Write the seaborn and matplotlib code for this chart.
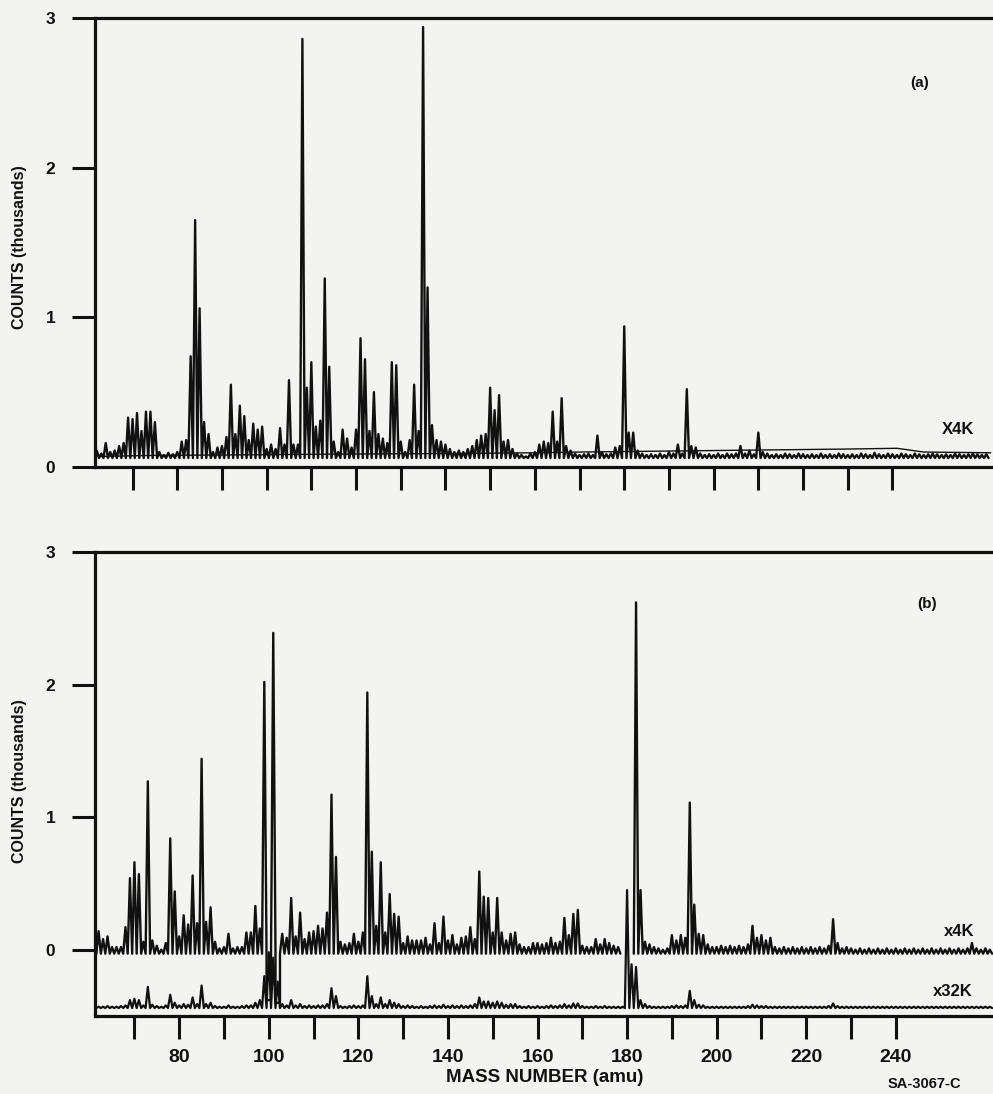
import numpy as np
import pandas as pd
import matplotlib
matplotlib.use("Agg")
import matplotlib.pyplot as plt
import seaborn as sns

sns.set_theme(style="white")
plt.rcParams["font.family"] = ["Liberation Sans", "DejaVu Sans"]

# mass numbers (amu), one reading per integer mass
masses = np.arange(62, 262)

# panel (a): X4K trace, counts
counts_a = [
    110, 90, 160, 100, 110, 140, 160, 330, 320, 360,
    240, 370, 370, 300, 100, 80, 95, 85, 100, 170,
    180, 740, 1650, 1060, 300, 220, 100, 130, 140, 200,
    550, 220, 410, 340, 180, 290, 250, 270, 120, 150,
    120, 260, 150, 580, 150, 150, 2860, 530, 700, 270,
    310, 1260, 670, 170, 100, 250, 190, 130, 250, 860,
    720, 240, 500, 220, 190, 160, 700, 680, 170, 100,
    180, 550, 240, 2940, 1200, 280, 180, 170, 150, 120,
    100, 110, 100, 120, 140, 180, 210, 220, 530, 380,
    480, 170, 180, 120, 90, 80, 70, 90, 100, 150,
    170, 160, 370, 170, 460, 140, 110, 90, 80, 85,
    90, 80, 210, 100, 85, 90, 130, 140, 940, 230,
    230, 110, 90, 80, 85, 80, 90, 80, 100, 90,
    150, 90, 520, 140, 130, 90, 80, 85, 80, 90,
    80, 90, 85, 90, 140, 90, 110, 85, 230, 100,
    90, 80, 85, 80, 90, 85, 80, 90, 85, 80,
    85, 80, 90, 80, 85, 80, 90, 85, 80, 85,
    80, 90, 85, 80, 95, 85, 80, 90, 85, 80,
    90, 85, 80, 90, 85, 80, 85, 90, 85, 80,
    85, 80, 90, 85, 80, 85, 90, 85, 80, 85,
]
# smooth background line drawn under trace (a)
bg_mass_a = [62, 70, 76, 90, 110, 140, 160, 170, 200, 230, 241, 247, 262]
bg_counts_a = [70, 75, 78, 80, 85, 90, 95, 100, 110, 120, 125, 100, 95]

nan = np.nan
# panel (b): x4K trace, counts (gaps where the pen went off scale)
counts_b4 = [
    140, 80, 100, 20, 20, 20, 170, 540, 660, 570,
    60, 1270, 70, 30, 0, 50, 840, 440, 100, 260,
    190, 560, 200, 1440, 210, 320, 60, 10, 20, 120,
    10, 20, 20, 130, 130, 330, 160, 2020, -380, 2390,
    -400, 120, 90, 390, 100, 280, 80, 130, 140, 180,
    160, 280, 1170, 700, 60, 40, 50, 120, 60, 130,
    1940, 740, 180, 660, 130, 420, 270, 250, 50, 100,
    70, 70, 70, 90, 40, 200, 50, 250, 70, 110,
    40, 90, 100, 170, 80, 590, 400, 390, 130, 390,
    130, 70, 120, 130, 40, 20, 20, 50, 50, 40,
    50, 90, 50, 60, 240, 110, 270, 300, 30, 20,
    20, 80, 40, 80, 50, 30, 20, nan, nan, nan,
    2620, 450, 60, 40, 20, 10, 0, 10, 110, 70,
    110, 90, 1110, 340, 120, 110, 40, 20, 20, 30,
    20, 30, 20, 30, 20, 40, 180, 90, 110, 70,
    90, 20, 10, 20, 10, 20, 10, 20, 10, 20,
    10, 20, 10, 30, 230, 50, 10, 20, 10, 0,
    10, 0, 10, 0, 10, 0, 10, 0, 10, 0,
    10, 0, 10, 0, 10, 0, 10, 0, 10, 0,
    10, 0, 10, 0, 10, 50, 10, 0, 10, 0,
]
# panel (b): x32K trace, counts (offset below zero)
counts_b32 = [
    -430, -430, -425, -430, -430, -425, -420, -380, -370, -380,
    -420, -280, -415, -425, -430, -420, -340, -400, -420, -410,
    -415, -360, -410, -270, -410, -400, -425, -430, -430, -420,
    -430, -430, -425, -420, -420, -400, -380, -200, -20, -60,
    -240, -410, -420, -380, -420, -410, -425, -420, -425, -420,
    -420, -410, -290, -350, -425, -430, -425, -420, -425, -420,
    -200, -350, -410, -360, -410, -380, -400, -410, -425, -420,
    -425, -430, -425, -430, -425, -420, -425, -415, -425, -420,
    -425, -420, -425, -420, -410, -360, -390, -390, -400, -390,
    -400, -415, -410, -410, -425, -430, -425, -430, -425, -430,
    -425, -420, -425, -420, -410, -420, -405, -405, -425, -430,
    -430, -425, -430, -425, -430, -430, -430, -430, 450, -110,
    -130, -380, -410, -425, -430, -430, -430, -430, -425, -420,
    -425, -420, -310, -380, -415, -420, -430, -430, -430, -430,
    -430, -430, -430, -430, -430, -425, -415, -420, -425, -425,
    -430, -430, -430, -430, -430, -430, -430, -430, -430, -430,
    -430, -430, -430, -425, -405, -425, -430, -430, -430, -430,
    -430, -430, -430, -430, -430, -430, -430, -430, -430, -430,
    -430, -430, -430, -430, -430, -430, -430, -430, -430, -430,
    -430, -430, -430, -430, -430, -430, -430, -430, -430, -430,
]

valley_a, valley_b4, valley_b32 = 60, -30, -440
tick_masses = list(range(70, 250, 10))

INK = "#111111"
PAPER = "#f3f3f1"
W, H = 993, 1094


def comb_frame(values, valley):
    """Peak at each integer mass, dropping to the valley level between masses."""
    rows, seg = [], 0
    for m, v in zip(masses, values):
        if np.isnan(v):
            seg += 1
            continue
        rows += [(m - 0.5, min(valley, v), seg), (m, v, seg), (m + 0.5, min(valley, v), seg)]
    df = pd.DataFrame(rows, columns=["mass", "counts", "seg"])
    df["k"] = df["counts"] / 1000.0
    return df


def style_axes(ax, xlim, ylim):
    ax.set_facecolor(PAPER)
    ax.set_xlim(*xlim)
    ax.set_ylim(*ylim)
    for side in ["left", "top", "bottom"]:
        ax.spines[side].set_linewidth(2.3)
        ax.spines[side].set_color(INK)
    ax.spines["right"].set_visible(False)
    ax.set_yticks([0, 1, 2, 3])
    ax.set_yticklabels(["0", "1", "2", "3"], fontsize=12.5, fontweight="bold", color=INK)
    ax.set_xticks(tick_masses)
    ax.tick_params(axis="both", direction="out", length=16.5, width=2.2, color=INK)
    ax.tick_params(axis="y", pad=12, left=True)
    ax.tick_params(axis="x", bottom=True, pad=7)
    ax.set_xlabel("")
    ax.set_ylabel("")


fig = plt.figure(figsize=(W / 100, H / 100), dpi=100, facecolor=PAPER)

# ---- panel (a)
ax_a = fig.add_axes([95 / W, 1 - 467 / H, (W - 95) / W, (467 - 18) / H])
sns.lineplot(data=comb_frame(counts_a, valley_a), x="mass", y="k", units="seg",
             estimator=None, sort=False, color=INK, lw=1.7, ax=ax_a)
ax_a.plot(bg_mass_a, np.array(bg_counts_a) / 1000.0, color=INK, lw=1.0)
style_axes(ax_a, (61.6, 262.5), (0, 3))
ax_a.set_xticklabels([])

# ---- panel (b)
ax_b = fig.add_axes([95 / W, 1 - 1016 / H, (W - 95) / W, (1016 - 552) / H])
sns.lineplot(data=comb_frame(counts_b4, valley_b4), x="mass", y="k", units="seg",
             estimator=None, sort=False, color=INK, lw=1.7, ax=ax_b)
sns.lineplot(data=comb_frame(counts_b32, valley_b32), x="mass", y="k", units="seg",
             estimator=None, sort=False, color=INK, lw=1.6, ax=ax_b)
style_axes(ax_b, (61.2, 261.7), (-0.5, 3))
ax_b.set_xticklabels([str(t) if t % 20 == 0 else "" for t in tick_masses],
                     fontsize=14, fontweight="bold", color=INK)


def ftext(x, y, s, **kw):
    fig.text(x / W, 1 - y / H, s, color=INK, fontweight="bold", **kw)


ftext(20, 247, "COUNTS (thousands)", rotation=90, ha="center", va="center", fontsize=11.5)
ftext(20, 781, "COUNTS (thousands)", rotation=90, ha="center", va="center", fontsize=11.5)
ftext(545, 1077, "MASS NUMBER (amu)", ha="center", va="center", fontsize=13.5)
ftext(920, 83, "(a)", ha="center", va="center", fontsize=11)
ftext(958, 430, "X4K", ha="center", va="center", fontsize=12)
ftext(927, 604, "(b)", ha="center", va="center", fontsize=11)
ftext(959, 932, "x4K", ha="center", va="center", fontsize=12)
ftext(953, 992, "x32K", ha="center", va="center", fontsize=12)
ftext(888, 1091, "SA-3067-C", ha="left", va="bottom", fontsize=10.5)

fig.savefig("out.png", dpi=100, facecolor=PAPER)
plt.close(fig)
